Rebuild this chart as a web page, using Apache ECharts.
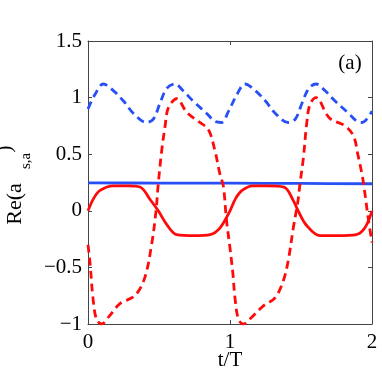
<!DOCTYPE html>
<html>
<head>
<meta charset="utf-8">
<script src="https://cdn.jsdelivr.net/npm/echarts@6/dist/echarts.min.js"></script>
<style>html,body{margin:0;padding:0;background:#fff}#c{width:382px;height:382px}</style>
</head>
<body>
<div id="c"></div>
<script>
// Blue dashed
const blueDashT = [0, 0.05, 0.108, 0.18, 0.25, 0.32, 0.41, 0.46, 0.507, 0.554, 0.613, 0.67, 0.74, 0.836, 0.894, 0.94, 0.99,
  1.05, 1.105, 1.18, 1.25, 1.32, 1.41, 1.46, 1.507, 1.554, 1.606, 1.67, 1.74, 1.836, 1.894, 1.93, 2.0];
const blueDashV = [0.90, 1.03, 1.12, 1.06, 0.97, 0.86, 0.78, 0.81, 0.95, 1.08, 1.12, 1.06, 0.97, 0.86, 0.79, 0.78, 0.88,
  1.03, 1.12, 1.06, 0.97, 0.86, 0.78, 0.81, 0.95, 1.08, 1.12, 1.06, 0.97, 0.86, 0.79, 0.78, 0.88];
// Blue solid
const blueSolidT = [0, 0.5, 1, 1.5, 2];
const blueSolidV = [0.247, 0.245, 0.244, 0.242, 0.239];
// Red solid
const redSolidT = [0, 0.04, 0.085, 0.178, 0.28, 0.366, 0.437, 0.495, 0.554, 0.624, 0.75, 0.86, 0.93, 1.0,
  1.04, 1.085, 1.16, 1.26, 1.38, 1.446, 1.48, 1.54, 1.634, 1.76, 1.89, 1.95, 2.0];
const redSolidV = [0, 0.11, 0.18, 0.22, 0.22, 0.21, 0.10, 0.0, -0.12, -0.21, -0.22, -0.21, -0.15, 0,
  0.11, 0.18, 0.22, 0.22, 0.21, 0.09, 0.0, -0.13, -0.22, -0.22, -0.21, -0.15, 0];
// Red dashed
const redDashT = [0, 0.015, 0.035, 0.06, 0.096, 0.15, 0.225, 0.33, 0.40, 0.449, 0.479, 0.495, 0.519, 0.542, 0.566, 0.625, 0.695, 0.777, 0.847, 0.894, 0.93, 0.953, 0.975, 1.0,
  1.02, 1.035, 1.06, 1.094, 1.153, 1.235, 1.317, 1.375, 1.41, 1.446, 1.48, 1.493, 1.517, 1.54, 1.563, 1.605, 1.70, 1.81, 1.87, 1.90, 1.93, 1.945, 1.975, 2.0];
const redDashV = [-0.30, -0.47, -0.77, -0.96, -1.0, -0.93, -0.82, -0.75, -0.59, -0.29, 0.0, 0.24, 0.53, 0.74, 0.91, 0.99, 0.87, 0.79, 0.72, 0.53, 0.32, 0.22, -0.08, -0.33,
  -0.55, -0.77, -0.96, -1.0, -0.94, -0.84, -0.77, -0.62, -0.44, -0.15, 0.10, 0.24, 0.47, 0.77, 0.94, 1.0, 0.82, 0.75, 0.66, 0.50, 0.32, 0.20, -0.08, -0.28];

const xTicks = [0, 1, 2];
const yTicks = [-1, -0.5, 0, 0.5, 1, 1.5];

const zip = (t, v) => t.map((x, i) => [x, v[i]]);
const BLUE = '#2650f5', RED = '#ff0a0a';
const FONT = 'Liberation Serif';

const chart = echarts.init(document.getElementById('c'), null, {renderer: 'canvas'});
const axisCommon = {
  axisLine: {show: true, onZero: false, lineStyle: {color: '#444', width: 1}},
  axisTick: {show: true, inside: true, length: 4, lineStyle: {color: '#444'}},
  splitLine: {show: false}
};
chart.setOption({
  animation: false,
  grid: {left: 88, right: 10, top: 41, bottom: 58},
  xAxis: [
    Object.assign({type: 'value', min: 0, max: 2, interval: 1, position: 'bottom',
      axisLabel: {fontFamily: FONT, fontSize: 21, color: '#000', margin: 8,
        formatter: v => xTicks.includes(v) ? String(v) : ''}}, axisCommon),
    Object.assign({type: 'value', min: 0, max: 2, interval: 1, position: 'top', axisLabel: {show: false}}, axisCommon)
  ],
  yAxis: [
    Object.assign({type: 'value', min: -1, max: 1.5, interval: 0.5, position: 'left',
      axisLabel: {fontFamily: FONT, fontSize: 21, color: '#000', margin: 6,
        formatter: v => yTicks.includes(v) ? String(v).replace('-', '\u2212') : ''}}, axisCommon),
    Object.assign({type: 'value', min: -1, max: 1.5, interval: 0.5, position: 'right', axisLabel: {show: false}}, axisCommon)
  ],
  series: [
    {type: 'line', data: zip(blueDashT, blueDashV), smooth: 0.35, showSymbol: false,
      lineStyle: {color: BLUE, width: 2.8, type: [8, 5]}},
    {type: 'line', data: zip(blueSolidT, blueSolidV), smooth: 0.35, showSymbol: false,
      lineStyle: {color: BLUE, width: 2.8}},
    {type: 'line', data: zip(redSolidT, redSolidV), smooth: 0.35, showSymbol: false,
      lineStyle: {color: RED, width: 2.8}},
    {type: 'line', data: zip(redDashT, redDashV), smooth: 0.35, showSymbol: false,
      lineStyle: {color: RED, width: 2.8, type: [8, 5]}}
  ],
  graphic: [
    {type: 'text', x: 230, y: 360, style: {text: 't/T', font: '21px "Liberation Serif"', fill: '#000', align: 'center', verticalAlign: 'middle'}},
    {type: 'text', x: 350, y: 63, style: {text: '(a)', font: '21px "Liberation Serif"', fill: '#000', align: 'center', verticalAlign: 'middle'}},
    {type: 'text', x: 15, y: 204, rotation: Math.PI / 2, style: {text: 'Re(a', font: '22px "Liberation Serif"', fill: '#000', align: 'center', verticalAlign: 'middle'}},
    {type: 'text', x: 26, y: 161, rotation: Math.PI / 2, style: {text: 's,a', font: '15px "Liberation Serif"', fill: '#000', align: 'center', verticalAlign: 'middle'}},
    {type: 'text', x: 5, y: 149, rotation: Math.PI / 2, style: {text: ')', font: '22px "Liberation Serif"', fill: '#000', align: 'center', verticalAlign: 'middle'}}
  ]
});
</script>
</body>
</html>
